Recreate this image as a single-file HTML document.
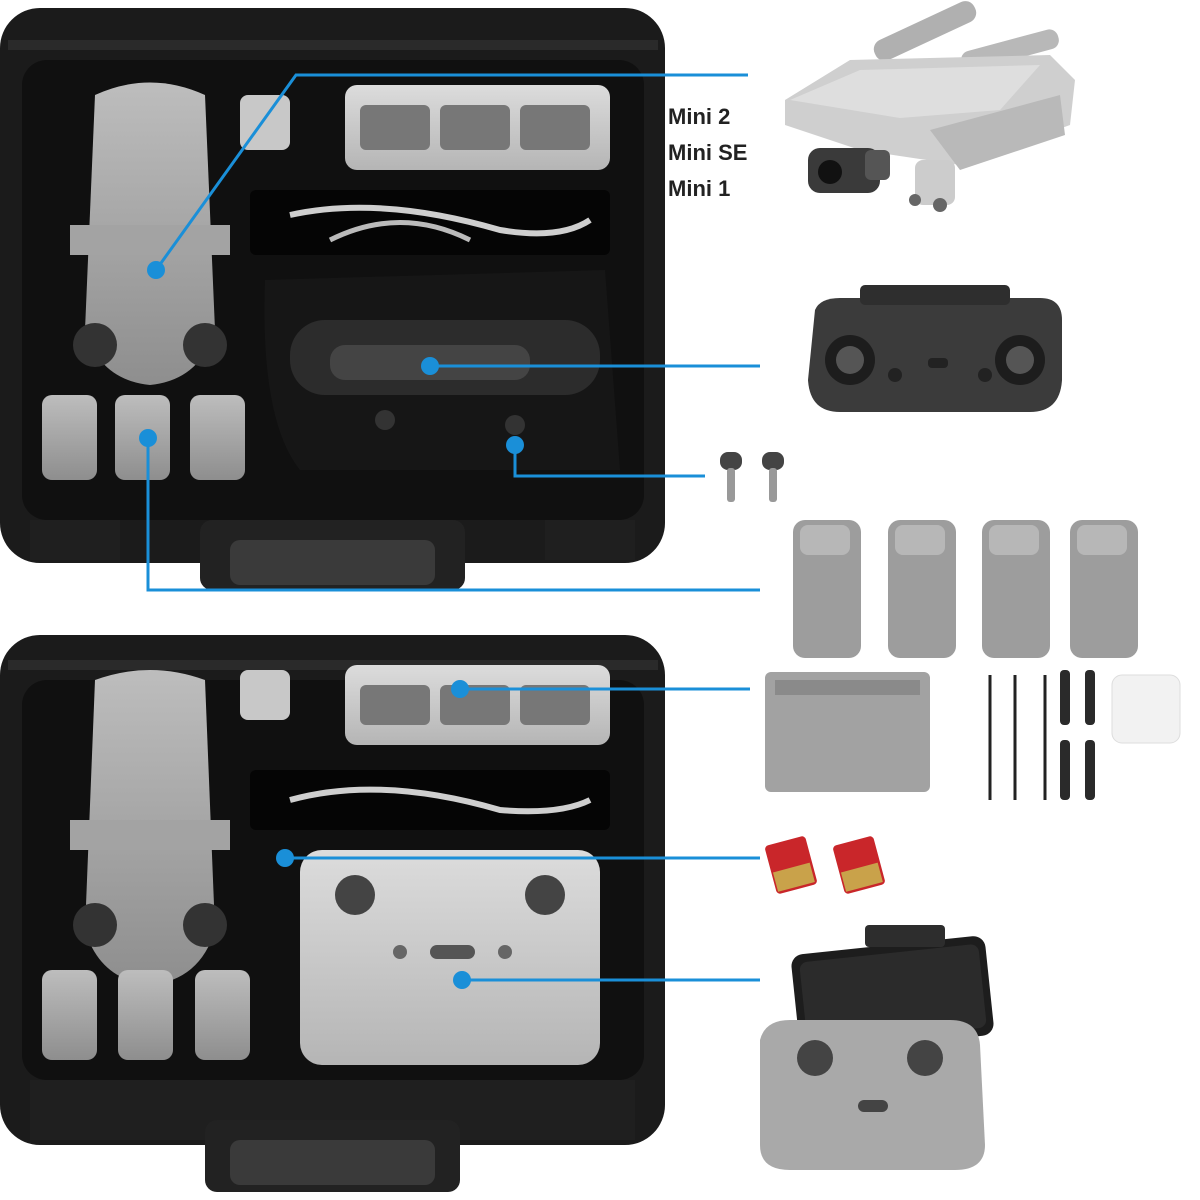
<!DOCTYPE html>
<html><head><meta charset="utf-8"><style>
html,body{margin:0;padding:0;background:#fff;}
svg{display:block}
</style></head><body>
<svg width="1200" height="1200" viewBox="0 0 1200 1200" xmlns="http://www.w3.org/2000/svg">
<defs>
<linearGradient id="gr" x1="0" y1="0" x2="0" y2="1"><stop offset="0" stop-color="#bdbdbd"/><stop offset="1" stop-color="#8e8e8e"/></linearGradient>
<linearGradient id="lg" x1="0" y1="0" x2="0" y2="1"><stop offset="0" stop-color="#dcdcdc"/><stop offset="1" stop-color="#b5b5b5"/></linearGradient>
</defs>

<!-- ===== TOP CASE ===== -->
<g>
<rect x="0" y="8" width="665" height="555" rx="40" fill="#1b1b1b"/>
<rect x="8" y="40" width="650" height="10" fill="#2a2a2a"/>
<rect x="22" y="60" width="622" height="460" rx="25" fill="#101010"/>
<rect x="200" y="520" width="265" height="70" rx="12" fill="#222"/>
<rect x="230" y="540" width="205" height="45" rx="10" fill="#3a3a3a"/>
<rect x="30" y="520" width="90" height="40" fill="#1f1f1f"/>
<rect x="545" y="520" width="90" height="40" fill="#1f1f1f"/>
<path d="M95 95 Q150 70 205 95 L215 330 Q200 380 150 385 Q100 380 85 330 Z" fill="url(#gr)"/>
<rect x="70" y="225" width="160" height="30" fill="#a3a3a3"/>
<circle cx="95" cy="345" r="22" fill="#333"/><circle cx="205" cy="345" r="22" fill="#333"/>
<rect x="240" y="95" width="50" height="55" rx="8" fill="#c8c8c8"/>
<rect x="345" y="85" width="265" height="85" rx="12" fill="url(#lg)"/>
<rect x="360" y="105" width="70" height="45" rx="6" fill="#777"/><rect x="440" y="105" width="70" height="45" rx="6" fill="#777"/><rect x="520" y="105" width="70" height="45" rx="6" fill="#777"/>
<rect x="250" y="190" width="360" height="65" rx="6" fill="#050505"/>
<path d="M290 215 Q380 195 500 230 Q560 240 590 220" stroke="#cfcfcf" stroke-width="6" fill="none"/>
<path d="M330 240 Q400 205 470 240" stroke="#bbb" stroke-width="5" fill="none"/>
<path d="M265 280 L605 270 L620 470 L300 470 Q260 420 265 280Z" fill="#161616"/>
<rect x="290" y="320" width="310" height="75" rx="35" fill="#2c2c2c"/>
<rect x="330" y="345" width="200" height="35" rx="15" fill="#444"/>
<circle cx="385" cy="420" r="10" fill="#333"/><circle cx="515" cy="425" r="10" fill="#333"/>
<rect x="42" y="395" width="55" height="85" rx="10" fill="url(#gr)"/>
<rect x="115" y="395" width="55" height="85" rx="10" fill="url(#gr)"/>
<rect x="190" y="395" width="55" height="85" rx="10" fill="url(#gr)"/>
</g>

<!-- ===== BOTTOM CASE ===== -->
<g>
<rect x="0" y="635" width="665" height="510" rx="40" fill="#1b1b1b"/>
<rect x="8" y="660" width="650" height="10" fill="#2a2a2a"/>
<rect x="22" y="680" width="622" height="400" rx="25" fill="#101010"/>
<rect x="30" y="1080" width="605" height="60" fill="#1f1f1f"/>
<rect x="205" y="1120" width="255" height="72" rx="12" fill="#222"/>
<rect x="230" y="1140" width="205" height="45" rx="10" fill="#3a3a3a"/>
<path d="M95 680 Q150 660 205 680 L215 930 Q200 980 150 985 Q100 980 85 930 Z" fill="url(#gr)"/>
<rect x="70" y="820" width="160" height="30" fill="#a3a3a3"/>
<circle cx="95" cy="925" r="22" fill="#333"/><circle cx="205" cy="925" r="22" fill="#333"/>
<rect x="240" y="670" width="50" height="50" rx="8" fill="#c8c8c8"/>
<rect x="345" y="665" width="265" height="80" rx="12" fill="url(#lg)"/>
<rect x="360" y="685" width="70" height="40" rx="6" fill="#777"/><rect x="440" y="685" width="70" height="40" rx="6" fill="#777"/><rect x="520" y="685" width="70" height="40" rx="6" fill="#777"/>
<rect x="250" y="770" width="360" height="60" rx="6" fill="#050505"/>
<path d="M290 800 Q380 775 500 810 Q560 815 590 800" stroke="#cfcfcf" stroke-width="6" fill="none"/>
<rect x="300" y="850" width="300" height="215" rx="22" fill="url(#lg)"/>
<circle cx="355" cy="895" r="20" fill="#444"/><circle cx="545" cy="895" r="20" fill="#444"/>
<rect x="430" y="945" width="45" height="14" rx="7" fill="#555"/>
<circle cx="400" cy="952" r="7" fill="#666"/><circle cx="505" cy="952" r="7" fill="#666"/>
<rect x="42" y="970" width="55" height="90" rx="10" fill="url(#gr)"/>
<rect x="118" y="970" width="55" height="90" rx="10" fill="url(#gr)"/>
<rect x="195" y="970" width="55" height="90" rx="10" fill="url(#gr)"/>
</g>

<!-- ===== RIGHT ITEMS ===== -->
<text x="668" y="124" font-family="Liberation Sans, sans-serif" font-weight="bold" font-size="22" fill="#222">Mini 2</text>
<text x="668" y="160" font-family="Liberation Sans, sans-serif" font-weight="bold" font-size="22" fill="#222">Mini SE</text>
<text x="668" y="196" font-family="Liberation Sans, sans-serif" font-weight="bold" font-size="22" fill="#222">Mini 1</text>
<!-- drone -->
<rect x="870" y="20" width="110" height="22" rx="10" fill="#b0b0b0" transform="rotate(-25 925 31)"/>
<rect x="960" y="40" width="100" height="20" rx="9" fill="#b8b8b8" transform="rotate(-15 1010 50)"/>
<path d="M785 100 L850 60 L1050 55 L1075 80 L1070 125 L960 165 L860 150 L785 125 Z" fill="#cfcfcf"/>
<path d="M790 100 L860 70 L1040 65 L1000 110 L900 118 Z" fill="#dedede"/>
<path d="M930 130 L1060 95 L1065 135 L960 170 Z" fill="#b9b9b9"/>
<rect x="808" y="148" width="72" height="45" rx="12" fill="#3a3a3a"/>
<circle cx="830" cy="172" r="12" fill="#111"/>
<rect x="865" y="150" width="25" height="30" rx="6" fill="#555"/>
<rect x="915" y="160" width="40" height="45" rx="8" fill="#ccc"/>
<circle cx="940" cy="205" r="7" fill="#666"/><circle cx="915" cy="200" r="6" fill="#666"/>
<!-- controller -->
<path d="M815 310 Q820 298 840 298 L1040 298 Q1062 298 1062 320 L1062 380 Q1060 412 1030 412 L840 412 Q810 412 808 380 Z" fill="#3b3b3b"/>
<rect x="860" y="285" width="150" height="20" rx="5" fill="#2e2e2e"/>
<circle cx="850" cy="360" r="25" fill="#1d1d1d"/><circle cx="1020" cy="360" r="25" fill="#1d1d1d"/>
<circle cx="850" cy="360" r="14" fill="#555"/><circle cx="1020" cy="360" r="14" fill="#555"/>
<circle cx="895" cy="375" r="7" fill="#222"/><circle cx="985" cy="375" r="7" fill="#222"/>
<rect x="928" y="358" width="20" height="10" rx="4" fill="#222"/>
<!-- sticks -->
<rect x="720" y="452" width="22" height="18" rx="8" fill="#444"/><rect x="727" y="468" width="8" height="34" rx="3" fill="#999"/>
<rect x="762" y="452" width="22" height="18" rx="8" fill="#444"/><rect x="769" y="468" width="8" height="34" rx="3" fill="#999"/>
<!-- batteries -->
<g fill="#9d9d9d">
<rect x="793" y="520" width="68" height="138" rx="12"/>
<rect x="888" y="520" width="68" height="138" rx="12"/>
<rect x="982" y="520" width="68" height="138" rx="12"/>
<rect x="1070" y="520" width="68" height="138" rx="12"/>
</g>
<g fill="#b7b7b7"><rect x="800" y="525" width="50" height="30" rx="8"/><rect x="895" y="525" width="50" height="30" rx="8"/><rect x="989" y="525" width="50" height="30" rx="8"/><rect x="1077" y="525" width="50" height="30" rx="8"/></g>
<!-- hub -->
<rect x="765" y="672" width="165" height="120" rx="6" fill="#a2a2a2"/>
<rect x="775" y="680" width="145" height="15" fill="#8a8a8a"/>
<g stroke="#222" stroke-width="3"><line x1="990" y1="675" x2="990" y2="800"/><line x1="1015" y1="675" x2="1015" y2="800"/><line x1="1045" y1="675" x2="1045" y2="800"/></g>
<g fill="#2a2a2a"><rect x="1060" y="670" width="10" height="55" rx="4"/><rect x="1085" y="670" width="10" height="55" rx="4"/><rect x="1060" y="740" width="10" height="60" rx="4"/><rect x="1085" y="740" width="10" height="60" rx="4"/></g>
<rect x="1112" y="675" width="68" height="68" rx="10" fill="#f2f2f2" stroke="#ddd"/>
<!-- sd cards -->
<rect x="770" y="840" width="42" height="50" rx="4" fill="#c9262a" transform="rotate(-15 791 865)"/>
<rect x="838" y="840" width="42" height="50" rx="4" fill="#c9262a" transform="rotate(-15 859 865)"/>
<rect x="775" y="868" width="38" height="20" fill="#c9a24a" transform="rotate(-15 791 878)"/>
<rect x="843" y="868" width="38" height="20" fill="#c9a24a" transform="rotate(-15 859 878)"/>
<!-- RC-N1 with phone -->
<rect x="795" y="945" width="195" height="100" rx="12" fill="#1d1d1d" transform="rotate(-6 892 995)"/>
<rect x="803" y="953" width="180" height="84" rx="8" fill="#2b2b2b" transform="rotate(-6 892 995)"/>
<rect x="865" y="925" width="80" height="22" rx="4" fill="#2d2d2d"/>
<path d="M760 1040 Q765 1020 790 1020 L950 1020 Q978 1020 980 1045 L985 1145 Q985 1170 955 1170 L790 1170 Q760 1170 760 1145 Z" fill="#a9a9a9"/>
<circle cx="815" cy="1058" r="18" fill="#444"/><circle cx="925" cy="1058" r="18" fill="#444"/>
<rect x="858" y="1100" width="30" height="12" rx="6" fill="#444"/>

<!-- ===== BLUE CONNECTORS ===== -->
<g stroke="#1a8fd8" stroke-width="3" fill="none">
<polyline points="748,75 296,75 156,270"/>
<line x1="430" y1="366" x2="760" y2="366"/>
<polyline points="515,445 515,476 705,476"/>
<polyline points="148,438 148,590 760,590"/>
<line x1="460" y1="689" x2="750" y2="689"/>
<line x1="285" y1="858" x2="760" y2="858"/>
<line x1="462" y1="980" x2="760" y2="980"/>
</g>
<g fill="#1a8fd8">
<circle cx="156" cy="270" r="9"/><circle cx="430" cy="366" r="9"/><circle cx="515" cy="445" r="9"/>
<circle cx="148" cy="438" r="9"/><circle cx="460" cy="689" r="9"/><circle cx="285" cy="858" r="9"/><circle cx="462" cy="980" r="9"/>
</g>
</svg>
</body></html>
